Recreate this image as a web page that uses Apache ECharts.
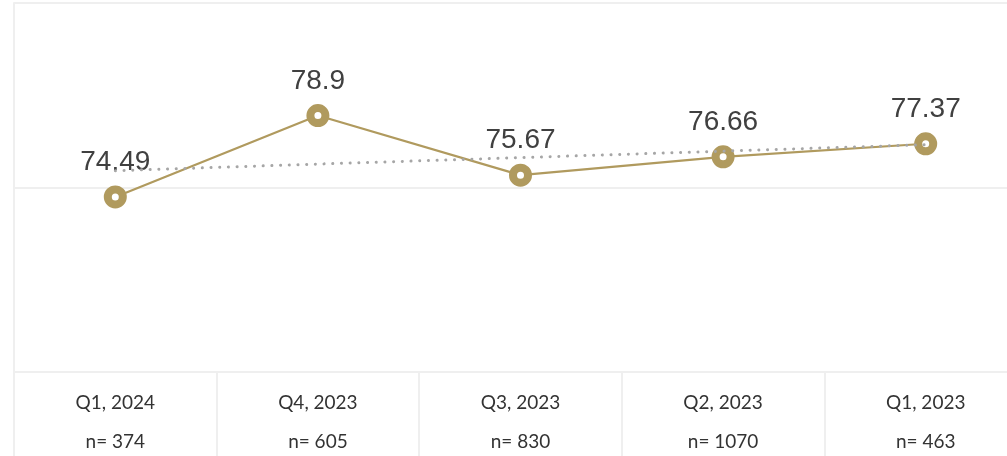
<!DOCTYPE html>
<html>
<head>
<meta charset="utf-8">
<script src="https://cdn.jsdelivr.net/npm/echarts@6/dist/echarts.min.js"></script>
<style>
  html, body { margin: 0; padding: 0; background: #fff; }
  #main { width: 1007px; height: 456px; }
</style>
</head>
<body>
<div id="main"></div>
<script>
const quarters = ['Q1, 2024', 'Q4, 2023', 'Q3, 2023', 'Q2, 2023', 'Q1, 2023'];
const counts = [374, 605, 830, 1070, 463];
const scores = [74.49, 78.9, 75.67, 76.66, 77.37];
// trend line
const trend = [75.91, 76.27, 76.62, 76.97, 77.32];

const gold = '#b09a5e';
const gridColor = '#efefef';

const myChart = echarts.init(document.getElementById('main'));
myChart.setOption({
    animation: false,
    grid: { left: 14, right: -20, top: 3, bottom: 84, containLabel: false, outerBoundsMode: 'none' },
    xAxis: {
        type: 'category',
        data: quarters,
        boundaryGap: true,
        axisLine: { show: true, lineStyle: { color: gridColor, width: 2 } },
        axisTick: { show: true, length: 90, lineStyle: { color: gridColor, width: 2 } },
        axisLabel: {
            margin: 11,
            color: '#333',
            fontFamily: 'Lato',
            fontSize: 19,
            lineHeight: 39,
            formatter: (v, i) => v + '\nn= ' + counts[i]
        }
    },
    yAxis: {
        type: 'value',
        min: 65,
        max: 85,
        interval: 10,
        axisLabel: { show: false },
        axisLine: { show: true, lineStyle: { color: gridColor, width: 2 } },
        axisTick: { show: false },
        splitLine: { show: true, lineStyle: { color: gridColor, width: 2 } }
    },
    series: [
        {
            name: 'Score',
            type: 'line',
            data: scores,
            symbol: 'circle',
            symbolSize: 15,
            lineStyle: { color: gold, width: 2.2 },
            itemStyle: { color: '#fff', borderColor: gold, borderWidth: 8 },
            label: {
                show: true,
                position: 'top',
                distance: 9,
                color: '#404040',
                fontFamily: 'Liberation Sans',
                fontSize: 28
            },
            z: 2
        },
        {
            name: 'Trend',
            type: 'line',
            data: trend,
            symbol: 'none',
            lineStyle: { color: '#a6a6a6', width: 3, type: [0.1, 8.6], cap: 'round' },
            z: 3
        }
    ]
});
</script>
</body>
</html>
